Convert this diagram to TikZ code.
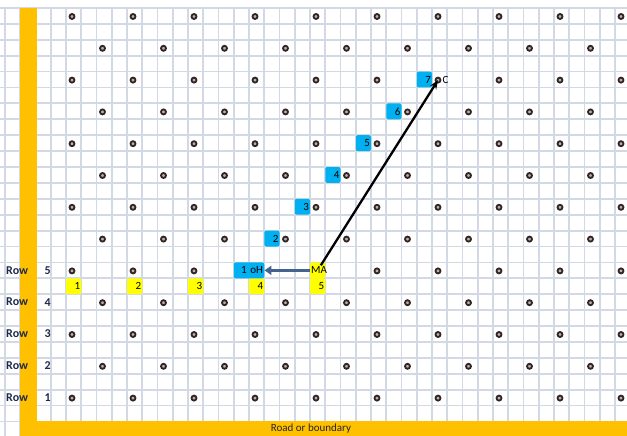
\documentclass[tikz,border=0pt]{standalone}
\usepackage{fontspec}
\setmainfont{Carlito}
\usepackage{tikz}
\usetikzlibrary{arrows.meta, calc, positioning}
\definecolor{gridline}{RGB}{210,217,228}
\definecolor{boundary}{RGB}{255,192,0}
\definecolor{stepblue}{RGB}{0,176,240}
\definecolor{markyellow}{RGB}{255,255,0}
\definecolor{treebrown}{RGB}{50,36,34}
\definecolor{moveblue}{RGB}{68,100,143}
\definecolor{rowtext}{RGB}{31,42,74}

\begin{document}
\begin{tikzpicture}[x=1pt, y=-1pt,
    gridln/.style={draw=gridline, line width=1.8pt},
    tree/.style={circle, draw=treebrown, line width=1.8pt, fill=treebrown!35,
                 inner sep=0pt, minimum size=5pt},
    stepbox/.style={rectangle, rounded corners=2pt, fill=stepblue,
                 minimum width=15.25pt, minimum height=15.9pt, inner sep=0pt,
                 text width=13pt, align=right, font=\fontsize{11}{12}\selectfont},
    markbox/.style={rectangle, rounded corners=2pt, fill=markyellow,
                 minimum width=15.25pt, minimum height=15.9pt, inner sep=0pt,
                 text width=13pt, align=right, font=\fontsize{11}{12}\selectfont},
    rowlab/.style={font=\fontsize{12}{13}\selectfont\bfseries, text=rowtext,
                 inner sep=0pt},
    move/.style={-{Triangle[length=7pt, width=9pt]}, line width=3.5pt,
                 color=moveblue},
    walk/.style={-{Stealth[length=9pt, width=7pt]}, line width=2.3pt,
                 color=black}]

  \useasboundingbox (0,0) rectangle (627,436);

  %--- Cuadricula ---
  \foreach \k in {0,...,40}
    \draw[gridln] ({5+15.25*\k},8) -- ({5+15.25*\k},436);
  \foreach \j in {0,...,26}
    \draw[gridln] (0,{8+15.9*\j}) -- (627,{8+15.9*\j});

  %--- Arboles ---
  \foreach \m in {0,...,12}{
    \pgfmathtruncatemacro\kfirst{mod(\m,2)==0 ? 4 : 6}
    \pgfmathtruncatemacro\knext{\kfirst+4}
    \pgfmathtruncatemacro\klast{mod(\m,2)==0 ? 40 : 38}
    \foreach \k in {\kfirst,\knext,...,\klast}
      \node[tree] (d-\m-\k) at ({11+15.25*\k},{16.5+31.8*\m}) {};
  }

  %--- Borde (camino) ---
  \fill[boundary] (20,8) rectangle (37,436);
  \fill[boundary] (20,421.4) rectangle (627,436);
  \node[font=\fontsize{11}{12}\selectfont, text=black!85] (road)
    at (311,429) {Road or boundary};

  %--- Filas ---
  \node[rowlab, anchor=west] (rw5) at (6,270.35) {Row};
  \node[rowlab, anchor=west] (rw4) at (6,302.15) {Row};
  \node[rowlab, anchor=west] (rw3) at (6,333.95) {Row};
  \node[rowlab, anchor=west] (rw2) at (6,365.75) {Row};
  \node[rowlab, anchor=west] (rw1) at (6,397.55) {Row};
  \node[rowlab, anchor=east] (rn5) at (51,270.35) {5};
  \node[rowlab, anchor=east] (rn4) at (51,302.15) {4};
  \node[rowlab, anchor=east] (rn3) at (51,333.95) {3};
  \node[rowlab, anchor=east] (rn2) at (51,365.75) {2};
  \node[rowlab, anchor=east] (rn1) at (51,397.55) {1};

  %--- Posiciones en la fila 5 ---
  \node[markbox] (y1) at (73.625,286.25)  {1};
  \node[markbox] (y2) at (134.625,286.25) {2};
  \node[markbox] (y3) at (195.625,286.25) {3};
  \node[markbox] (y4) at (256.625,286.25) {4};
  \node[markbox] (y5) at (317.625,286.25) {5};
  \node[markbox] (ma) at (317.625,270.35) {MA};

  %--- Pasos ---
  \node[stepbox, minimum width=30.5pt, text width=28pt] (b1) at (249,270.35) {1 oH};
  \node[stepbox] (b2) at (271.875,238.55) {2};
  \node[stepbox] (b3) at (302.375,206.75) {3};
  \node[stepbox] (b4) at (332.875,174.95) {4};
  \node[stepbox] (b5) at (363.375,143.15) {5};
  \node[stepbox] (b6) at (393.875,111.35) {6};
  \node[stepbox] (b7) at (424.375,79.55)  {7};
  \node[font=\fontsize{11}{12}\selectfont, inner sep=0pt, anchor=west]
    (cm) at ([xshift=1pt]d-2-28.east) {C};

  %--- Flechas ---
  \draw[move] (ma.west) -- (b1.east);
  \draw[walk, shorten <=6pt, shorten >=0pt] (ma.center) -- (d-2-28.center);
\end{tikzpicture}
\end{document}
